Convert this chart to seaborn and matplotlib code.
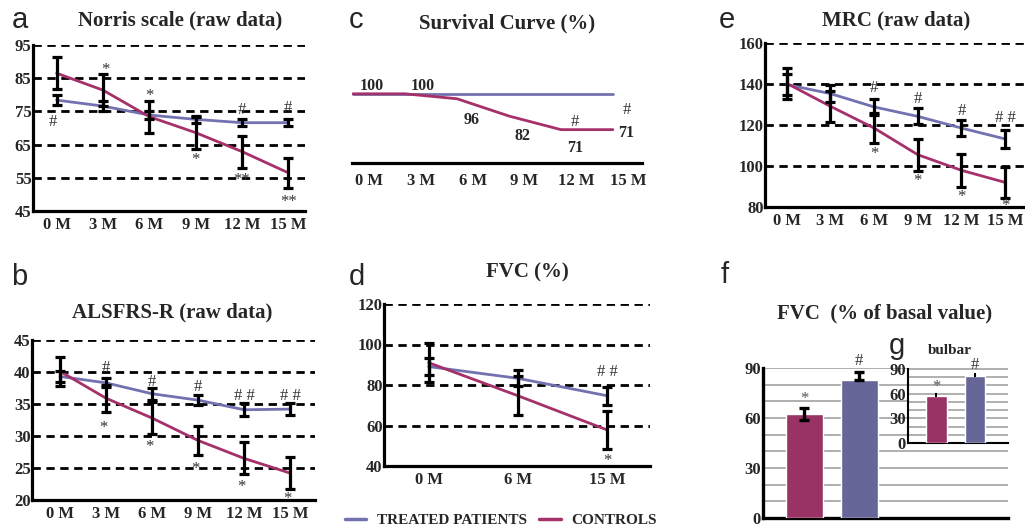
import numpy as np
import pandas as pd
import matplotlib
matplotlib.use('Agg')
import matplotlib.pyplot as plt
from matplotlib.lines import Line2D
import seaborn as sns

W, H = 1025, 529

# ---- data ----
months = ['0 M', '3 M', '6 M', '9 M', '12 M', '15 M']
fvc_months = ['0 M', '6 M', '15 M']

norris_treated = [78.4, 76.6, 73.9, 72.6, 71.6, 71.6]
norris_treated_sd = [1.4, 1.4, 1.2, 1.1, 1.0, 1.0]
norris_controls = [86.5, 81.4, 73.4, 68.6, 62.9, 56.5]
norris_controls_sd = [4.8, 4.8, 4.8, 4.8, 4.8, 4.6]

alsfrs_treated = [39.3, 38.3, 36.6, 35.6, 34.1, 34.2]
alsfrs_treated_sd = [0.9, 0.7, 0.9, 0.8, 1.0, 0.9]
alsfrs_controls = [40.1, 35.9, 32.8, 29.3, 26.5, 24.2]
alsfrs_controls_sd = [2.3, 2.1, 2.5, 2.3, 2.5, 2.5]

survival_treated = [100, 100, 100, 100, 100, 100]
survival_controls = [100, 100, 96, 82, 71, 71]

fvc_treated = [89.1, 83.3, 74.7]
fvc_treated_sd = [4.0, 4.0, 4.4]
fvc_controls = [91.0, 74.7, 57.8]
fvc_controls_sd = [9.7, 9.6, 9.5]

mrc_treated = [139.7, 135.3, 128.8, 124.2, 118.5, 113.2]
mrc_treated_sd = [5.0, 4.0, 3.7, 3.9, 3.9, 4.3]
mrc_controls = [140.3, 129.1, 118.5, 105.5, 97.9, 92.0]
mrc_controls_sd = [7.5, 7.7, 7.3, 7.7, 7.9, 7.7]

bar_groups = ['CONTROLS', 'TREATED PATIENTS']
fvc_basal = [62.5, 83.0]
fvc_basal_err = [[3.5, 0.0], [3.5, 4.4]]
bulbar_basal = [56.8, 82.0]
bulbar_err = [[0.0, 0.0], [2.5, 1.5]]

# significance marks (x index, y value, text)
marks_a = [(1.05, 87.5, '*'), (2.0, 79.6, '*'), (3.0, 60.4, '*'), (4.0, 54.3, '**'),
           (5.0, 47.8, '**'), (-0.07, 71.9, '#'), (4.0, 75.4, '#'), (5.0, 75.9, '#')]
marks_b = [(1, 40.6, '#'), (2, 38.5, '#'), (3, 37.7, '#'), (4, 36.2, '# #'), (5, 36.2, '# #'),
           (0.95, 31.2, '*'), (1.95, 28.3, '*'), (2.95, 24.9, '*'), (3.95, 22.0, '*'), (4.95, 20.2, '*')]
marks_d = [(2, 86.6, '# #'), (2, 42.6, '*')]
marks_e = [(2, 138.0, '#'), (3, 132.7, '#'), (4, 126.7, '#'), (5, 123.4, '# #'),
           (2, 106.0, '*'), (3, 92.5, '*'), (4, 84.9, '*'), (5, 80.3, '*')]
survival_label_y = [106.5, 106.5, 79.0, 65.6, 56.2, 68.3]
survival_label_dx = [0.36, 0.35, 0.28, 0.27, 0.27, 0.26]
survival_marks = [(4.27, 76.9, '#'), (5.26, 87.1, '#')]

LINE_BLUE = '#7272b0'
LINE_RED = '#a5306a'
BAR_RED = '#993366'
BAR_BLUE = '#666699'

TICK_FS = 12
MARK_FS = 12

sns.set_theme(style='white')
plt.rcParams['font.family'] = ['Liberation Serif', 'DejaVu Serif']
plt.rcParams['font.weight'] = 'bold'

fig = plt.figure(figsize=(W / 100, H / 100), dpi=100)


def add_ax(left, top, right, bottom):
    return fig.add_axes([left / W, 1 - bottom / H, (right - left) / W, (bottom - top) / H])


def fig_text(x, y, s, **kw):
    fig.text(x / W, 1 - y / H, s, **kw)


def line_panel(ax, labels, treated, controls, t_sd=None, c_sd=None, yticks=None, xlim=None):
    x = np.arange(len(labels))
    df = pd.DataFrame({
        'x': np.concatenate([x, x]),
        'y': treated + controls,
        'group': ['TREATED PATIENTS'] * len(x) + ['CONTROLS'] * len(x),
    })
    sns.lineplot(data=df, x='x', y='y', hue='group',
                 palette={'TREATED PATIENTS': LINE_BLUE, 'CONTROLS': LINE_RED},
                 lw=2.0, legend=False, ax=ax, zorder=3)
    if t_sd is not None:
        ax.errorbar(x, treated, yerr=t_sd, fmt='none', ecolor='black', elinewidth=2.3,
                    capsize=3.5, capthick=2.3, zorder=4)
        ax.errorbar(x, controls, yerr=c_sd, fmt='none', ecolor='black', elinewidth=2.3,
                    capsize=3.5, capthick=2.3, zorder=4)
    ax.set_xlim(*xlim)
    ax.set_xticks(x)
    ax.set_xticklabels(labels, fontsize=TICK_FS, fontweight='bold')
    ax.set_xlabel('')
    ax.set_ylabel('')
    if yticks is not None:
        ax.set_ylim(yticks[0], yticks[-1])
        ax.set_yticks(yticks)
        ax.set_yticklabels([str(v) for v in yticks], fontsize=TICK_FS, fontweight='bold')
        for v in yticks[1:]:
            ax.axhline(v, color='black', ls=(0, (3, 2)), lw=2.0, zorder=1)
    ax.tick_params(length=0, pad=4)
    ax.tick_params(axis='y', pad=1)
    sns.despine(ax=ax)
    for s in ['left', 'bottom']:
        ax.spines[s].set_color('black')
        ax.spines[s].set_linewidth(2.3)
    ax.set_facecolor('none')


def put_marks(ax, marks):
    for mx, my, s in marks:
        ax.text(mx, my, s, ha='center', va='center', fontsize=MARK_FS, fontweight='normal',
                color='#333333', clip_on=False, zorder=5)


# a: Norris
ax_a = add_ax(33, 45, 305, 211)
line_panel(ax_a, months, norris_treated, norris_controls, norris_treated_sd, norris_controls_sd,
           yticks=[45, 55, 65, 75, 85, 95], xlim=(-0.51, 5.36))
put_marks(ax_a, marks_a)

# b: ALSFRS-R
ax_b = add_ax(32, 340, 315, 500)
line_panel(ax_b, months, alsfrs_treated, alsfrs_controls, alsfrs_treated_sd, alsfrs_controls_sd,
           yticks=[20, 25, 30, 35, 40, 45], xlim=(-0.61, 5.54))
put_marks(ax_b, marks_b)

# c: survival
ax_c = add_ax(352, 45, 642, 163)
line_panel(ax_c, months, survival_treated, survival_controls, xlim=(-0.02, 5.56))
ax_c.set_ylim(44, 139.5)
ax_c.set_yticks([])
ax_c.spines['left'].set_visible(False)
ax_c.set_xticks(np.arange(len(months)) + 0.3)
ax_c.set_xticklabels(months, fontsize=TICK_FS, fontweight='bold')
ax_c.tick_params(axis='x', pad=7)
for i, v in enumerate(survival_controls):
    ax_c.text(i + survival_label_dx[i], survival_label_y[i], str(v), ha='center', va='center',
              fontsize=11.5, fontweight='bold', clip_on=False)
put_marks(ax_c, survival_marks)

# d: FVC
ax_d = add_ax(384, 304, 650, 466)
line_panel(ax_d, fvc_months, fvc_treated, fvc_controls, fvc_treated_sd, fvc_controls_sd,
           yticks=[40, 60, 80, 100, 120], xlim=(-0.5, 2.48))
put_marks(ax_d, marks_d)

# e: MRC
ax_e = add_ax(765, 43, 1030, 207)
line_panel(ax_e, months, mrc_treated, mrc_controls, mrc_treated_sd, mrc_controls_sd,
           yticks=[80, 100, 120, 140, 160], xlim=(-0.5, 5.57))
put_marks(ax_e, marks_e)


def bar_panel(ax, values, err, width, xlim, spine_lw, capsize):
    sns.barplot(x=bar_groups, y=values, hue=bar_groups,
                palette={'CONTROLS': BAR_RED, 'TREATED PATIENTS': BAR_BLUE},
                width=width, legend=False, ax=ax, zorder=3, saturation=1)
    ax.errorbar([0, 1], values, yerr=err, fmt='none', ecolor='black', elinewidth=spine_lw,
                capsize=capsize, capthick=spine_lw, zorder=4)
    ax.set_xlim(*xlim)
    ax.set_ylim(0, 90)
    ax.set_xticks([])
    ax.set_yticks([0, 30, 60, 90])
    ax.set_yticklabels(['0', '30', '60', '90'], fontsize=TICK_FS, fontweight='bold')
    ax.set_yticks(np.arange(10, 90, 10), minor=True)
    ax.yaxis.grid(True, which='both', color='#9a9a9a', lw=1.1, zorder=0)
    ax.set_axisbelow(True)
    ax.tick_params(length=0, pad=1.5, which='both')
    ax.set_xlabel('')
    ax.set_ylabel('')
    sns.despine(ax=ax)
    for s in ['left', 'bottom']:
        ax.spines[s].set_color('black')
        ax.spines[s].set_linewidth(spine_lw)


# f: FVC % of basal value
ax_f = add_ax(763, 368, 1008, 518)
bar_panel(ax_f, fvc_basal, fvc_basal_err, 0.667, (-0.75, 3.7), 2.4, 3.5)
ax_f.text(0, 71.5, '*', ha='center', va='center', fontsize=MARK_FS, fontweight='normal',
          color='#555555', zorder=5)
ax_f.text(1, 94, '#', ha='center', va='center', fontsize=MARK_FS, fontweight='normal',
          color='#333333', clip_on=False, zorder=5)

# g: bulbar inset
ax_g = add_ax(908, 369, 1008, 443)
ax_g.set_facecolor('white')
bar_panel(ax_g, bulbar_basal, bulbar_err, 0.53, (-0.74, 1.86), 1.5, 1)
ax_g.text(0, 68.5, '*', ha='center', va='center', fontsize=MARK_FS, fontweight='normal',
          color='#555555', zorder=5)
ax_g.text(1, 95, '#', ha='center', va='center', fontsize=MARK_FS, fontweight='normal',
          color='#333333', clip_on=False, zorder=5)

# titles
title_kw = dict(ha='center', va='center', fontsize=15, fontweight='bold')
fig_text(180, 20, 'Norris scale (raw data)', **title_kw)
fig_text(507, 23, 'Survival Curve (%)', **title_kw)
fig_text(896, 20, 'MRC (raw data)', **title_kw)
fig_text(172, 312, 'ALSFRS-R (raw data)', **title_kw)
fig_text(527, 272, 'FVC (%)', **title_kw)
fig_text(885, 313, 'FVC  (% of basal value)', **title_kw)
fig_text(950, 350, 'bulbar', ha='center', va='center', fontsize=11, fontweight='bold')

# panel letters
letter_kw = dict(ha='left', va='baseline', fontsize=21, fontweight='normal',
                 family=['Liberation Sans', 'DejaVu Sans'])
for lx, ly, s in [(12, 28, 'a'), (349, 28, 'c'), (719, 28, 'e'), (11, 285, 'b'),
                  (349, 285, 'd'), (721, 283, 'f'), (889, 354, 'g')]:
    fig_text(lx, ly, s, **letter_kw)

# legend
handles = [Line2D([], [], color=LINE_BLUE, lw=2.5), Line2D([], [], color=LINE_RED, lw=2.5)]
fig.legend(handles, ['TREATED PATIENTS', 'CONTROLS'], loc='center left',
           bbox_to_anchor=(345 / W, 1 - 520 / H), ncol=2, frameon=False,
           prop=dict(family='Liberation Serif', weight='bold', size=11),
           handlelength=1.4, handletextpad=0.7, columnspacing=0.8,
           borderpad=0, borderaxespad=0)

fig.savefig('out.png', dpi=100)
